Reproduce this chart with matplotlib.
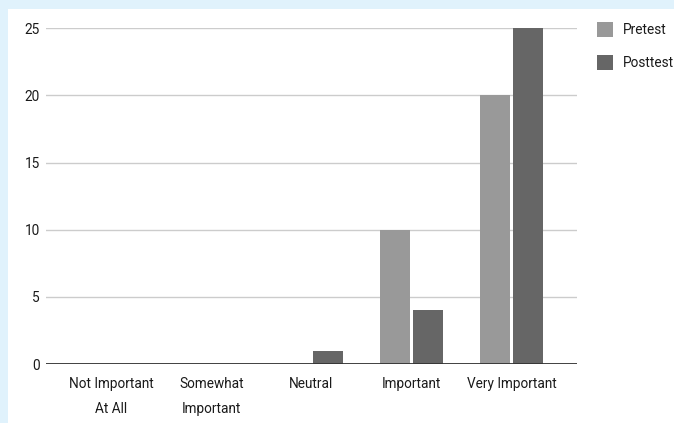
import numpy as np
import matplotlib.pyplot as plt
from matplotlib.patches import Rectangle, Patch

categories = ["Not Important\nAt All", "Somewhat\nImportant", "Neutral", "Important", "Very Important"]
pretest = [0, 0, 0, 10, 20]
posttest = [0, 0, 1, 4, 25]
yticks = [0, 5, 10, 15, 20, 25]

plt.rcParams['font.family'] = ['Roboto', 'DejaVu Sans']

fig = plt.figure(figsize=(6.74, 4.23), dpi=100, facecolor="#e0f2fc")
# white panel behind everything
fig.patches.append(Rectangle((8/674, 0), 1, 1 - 9/423, transform=fig.transFigure,
                             facecolor="white", edgecolor="none", zorder=-5))

ax = fig.add_axes([46/674, 1 - 364/423, 531/674, (364 - 28.3)/423])
ax.set_facecolor("none")

x = np.arange(len(categories))
w = 0.30
ax.bar(x - 0.165, pretest, w, color="#999999", zorder=3)
ax.bar(x + 0.165, posttest, w, color="#666666", zorder=3)

ax.set_xlim(-0.655, 4.655)
ax.set_ylim(0, 25)
ax.set_yticks(yticks)
ax.set_xticks(x)
ax.set_xticklabels(categories, fontsize=9.8, color="#1a1a1a", linespacing=2.05)
ax.tick_params(axis="y", length=0, pad=4.5, labelsize=9.8, labelcolor="#1a1a1a")
ax.tick_params(axis="x", length=0, pad=9)
ax.yaxis.grid(True, color="#cccccc", linewidth=1.0, zorder=0)
for s in ["top", "right", "left", "bottom"]:
    ax.spines[s].set_visible(False)
ax.axhline(0, color="#333333", linewidth=1.3, zorder=4)

handles = [Patch(facecolor="#999999", label="Pretest"),
           Patch(facecolor="#666666", label="Posttest")]
fig.legend(handles=handles, loc="upper left", bbox_to_anchor=(597/674, 1 - 22/423),
           frameon=False, fontsize=9.8, handlelength=1.15, handleheight=1.3,
           handletextpad=0.72, labelspacing=1.35, borderpad=0, borderaxespad=0,
           labelcolor="#1a1a1a")

fig.savefig("out.png", dpi=100, facecolor=fig.get_facecolor())
